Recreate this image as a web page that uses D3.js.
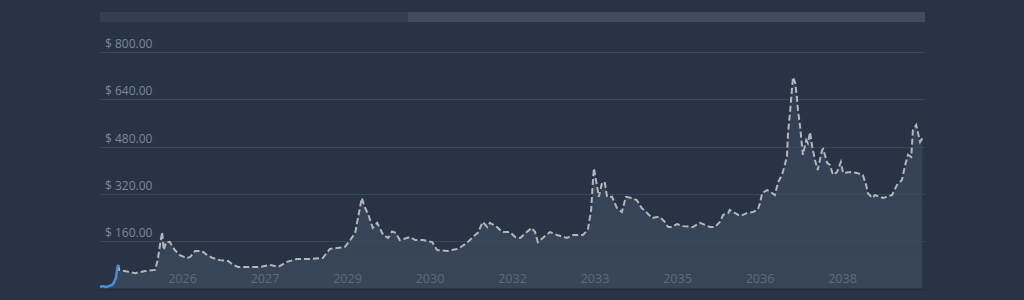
<!DOCTYPE html>
<html>
<head>
<meta charset="utf-8">
<script src="https://cdn.jsdelivr.net/npm/d3@7"></script>
<style>
  html, body { margin: 0; padding: 0; background: #283446; }
  svg { display: block; }
</style>
</head>
<body>
<div id="chart"></div>
<script>
// history (solid blue) and forecast (dashed) — fractional years and price in $
const histYears = [2024.50, 2024.55, 2024.61, 2024.66, 2024.72, 2024.75, 2024.79, 2024.81, 2024.83];
const histValues = [5, 8, 5, 8, 12, 19, 36, 63, 80];

const forecastYears = [
  2024.83, 2024.85, 2024.95, 2025.14, 2025.32, 2025.50, 2025.55, 2025.59, 2025.63, 2025.66,
  2025.70, 2025.77, 2025.86, 2025.95, 2026.08, 2026.14, 2026.23, 2026.35, 2026.45, 2026.55,
  2026.68, 2026.83, 2026.92, 2027.01, 2027.23, 2027.41, 2027.59, 2027.74, 2027.90, 2028.08,
  2028.32, 2028.55, 2028.68, 2028.81, 2028.95, 2029.05, 2029.14, 2029.19, 2029.26, 2029.32,
  2029.37, 2029.46, 2029.54, 2029.65, 2029.74, 2029.81, 2029.88, 2029.95, 2030.14, 2030.23,
  2030.37, 2030.54, 2030.63, 2030.81, 2031.01, 2031.17, 2031.32, 2031.37, 2031.46, 2031.54,
  2031.59, 2031.72, 2031.81, 2031.95, 2032.05, 2032.14, 2032.26, 2032.35, 2032.41, 2032.46,
  2032.55, 2032.68, 2032.81, 2032.99, 2033.10, 2033.28, 2033.37, 2033.43, 2033.46, 2033.48,
  2033.54, 2033.57, 2033.63, 2033.68, 2033.72, 2033.81, 2033.90, 2033.99, 2034.06, 2034.17,
  2034.26, 2034.35, 2034.45, 2034.54, 2034.63, 2034.68, 2034.77, 2034.83, 2034.90, 2034.99,
  2035.10, 2035.28, 2035.41, 2035.50, 2035.59, 2035.68, 2035.77, 2035.83, 2035.92, 2035.95,
  2036.05, 2036.14, 2036.26, 2036.37, 2036.46, 2036.50, 2036.54, 2036.63, 2036.72, 2036.77,
  2036.83, 2036.90, 2036.95, 2036.99, 2037.01, 2037.05, 2037.08, 2037.10, 2037.14, 2037.17,
  2037.19, 2037.23, 2037.28, 2037.34, 2037.37, 2037.41, 2037.45, 2037.50, 2037.55, 2037.63,
  2037.65, 2037.72, 2037.77, 2037.83, 2037.90, 2037.97, 2038.01, 2038.14, 2038.26, 2038.37,
  2038.43, 2038.46, 2038.54, 2038.59, 2038.74, 2038.90, 2038.99, 2039.08, 2039.14, 2039.19,
  2039.25, 2039.28, 2039.34, 2039.37, 2039.41, 2039.45
];
const forecastValues = [
  80, 63, 59, 52, 59, 63, 96, 147, 191, 130,
  157, 157, 130, 113, 103, 107, 127, 127, 113, 103,
  96, 93, 80, 73, 73, 73, 80, 73, 90, 100,
  100, 103, 134, 137, 140, 164, 188, 238, 306, 272,
  255, 205, 222, 181, 171, 193, 188, 164, 174, 164,
  164, 157, 130, 127, 134, 154, 181, 188, 225, 208,
  222, 208, 191, 191, 174, 171, 191, 205, 191, 157,
  171, 191, 181, 171, 181, 181, 198, 266, 357, 407,
  343, 310, 360, 357, 310, 310, 272, 259, 310, 306,
  299, 272, 255, 238, 242, 242, 225, 208, 208, 218,
  211, 208, 222, 215, 208, 208, 225, 249, 255, 266,
  255, 245, 255, 259, 266, 289, 323, 333, 323, 316,
  360, 384, 418, 445, 526, 604, 672, 715, 695, 648,
  604, 546, 452, 502, 492, 529, 479, 435, 401, 469,
  472, 425, 418, 384, 394, 428, 391, 394, 391, 384,
  350, 323, 306, 316, 306, 316, 350, 367, 418, 452,
  445, 536, 553, 529, 496, 508
];

const yTicks = [160, 320, 480, 640, 800];
const xTickYears = [2026, 2027.5, 2029, 2030.5, 2032, 2033.5, 2035, 2036.5, 2038];
const xTickLabels = ["2026", "2027", "2029", "2030", "2032", "2033", "2035", "2036", "2038"];

const width = 1024, height = 300;
const left = 100, right = 925, bottom = 288.5;

const hist = histYears.map((t, i) => ({ t, v: histValues[i] }));
const forecast = forecastYears.map((t, i) => ({ t, v: forecastValues[i] }));

const x = d3.scaleLinear().domain([2024.5, 2039.5]).range([left, right]);
const y = d3.scaleLinear().domain([0, 800]).range([bottom, 52]);

const svg = d3.select("#chart")
  .append("svg")
  .attr("width", width)
  .attr("height", height);

const defs = svg.append("defs");
const grad = defs.append("linearGradient")
  .attr("id", "fill")
  .attr("x1", 0).attr("y1", 0).attr("x2", 0).attr("y2", 1);
grad.append("stop").attr("offset", "0%").attr("stop-color", "#3c4a5e").attr("stop-opacity", 0.55);
grad.append("stop").attr("offset", "100%").attr("stop-color", "#3c4a5e").attr("stop-opacity", 0.8);

// top navigator bar
svg.append("rect")
  .attr("x", left).attr("y", 12)
  .attr("width", right - left).attr("height", 10)
  .attr("fill", "#343f51");
svg.append("rect")
  .attr("x", 408).attr("y", 12)
  .attr("width", right - 408).attr("height", 10)
  .attr("fill", "#434c5e");

// gridlines + y labels
svg.append("g")
  .selectAll("line")
  .data(yTicks)
  .enter()
  .append("line")
  .attr("x1", left).attr("x2", right)
  .attr("y1", d => Math.round(y(d)) + 0.5)
  .attr("y2", d => Math.round(y(d)) + 0.5)
  .attr("stroke", "#3b4759")
  .attr("stroke-width", 1);

svg.append("g")
  .selectAll("text")
  .data(yTicks)
  .enter()
  .append("text")
  .attr("x", 105)
  .attr("y", d => y(d) - 4)
  .text(d => "$ " + d.toFixed(2))
  .style("font-family", "'Open Sans', sans-serif")
  .style("font-size", "12px")
  .style("fill", "#7c879a");

// area under series
const all = hist.concat(forecast.slice(1));
const area = d3.area()
  .x(d => x(d.t))
  .y0(bottom)
  .y1(d => y(d.v));

svg.append("path")
  .datum(all)
  .attr("d", area)
  .attr("fill", "url(#fill)");

// bottom edge
svg.append("line")
  .attr("x1", left).attr("x2", right)
  .attr("y1", 289.5).attr("y2", 289.5)
  .attr("stroke", "#222c3b")
  .attr("stroke-width", 1.5);

// x axis labels
svg.append("g")
  .selectAll("text")
  .data(xTickYears)
  .enter()
  .append("text")
  .attr("x", d => x(d))
  .attr("y", 283)
  .attr("text-anchor", "middle")
  .text((d, i) => xTickLabels[i])
  .style("font-family", "'Open Sans', sans-serif")
  .style("font-size", "12.5px")
  .style("fill", "#5f6b7e");

const line = d3.line()
  .x(d => x(d.t))
  .y(d => y(d.v));

// forecast
svg.append("path")
  .datum(forecast)
  .attr("d", line)
  .attr("fill", "none")
  .attr("stroke", "#b4b6ba")
  .attr("stroke-width", 2)
  .attr("stroke-dasharray", "6,3");

// history
svg.append("path")
  .datum(hist)
  .attr("d", line)
  .attr("fill", "none")
  .attr("stroke", "#4a8fdc")
  .attr("stroke-width", 2.5)
  .attr("stroke-linejoin", "round");
</script>
</body>
</html>
